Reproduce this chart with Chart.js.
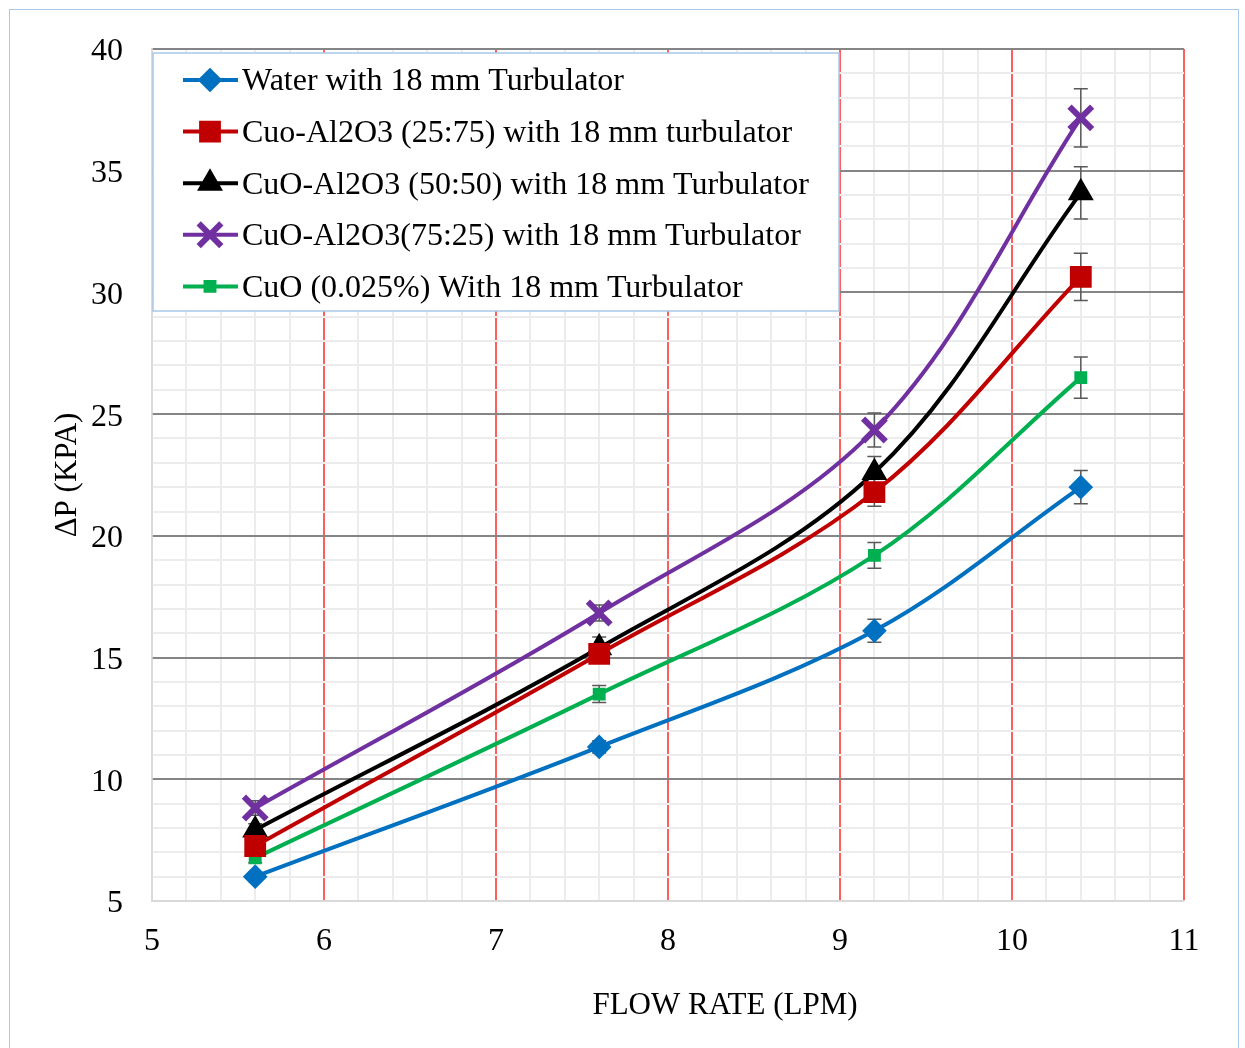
<!DOCTYPE html>
<html>
<head>
<meta charset="utf-8">
<script src="https://cdn.jsdelivr.net/npm/chart.js@4.4.1/dist/chart.umd.min.js"></script>
<style>
  html, body { margin: 0; padding: 0; background: #fff; }
  #wrap { position: relative; width: 1245px; height: 1048px; overflow: hidden; }
  #frame { position: absolute; left: 9px; top: 9px; width: 1228px; height: 1100px; border: 1.5px solid #a9c9e8; }
  canvas { position: absolute; left: 0; top: 0; }
</style>
</head>
<body>
<div id="wrap">
  <div id="frame"></div>
  <canvas id="chart" width="1245" height="1048"></canvas>
</div>
<script>
// flow rate (LPM) on x, pressure drop (kPa) on y
const flowRate = [5.6, 7.6, 9.2, 10.4];

const water     = [6.0, 11.33, 16.1, 22.0];
const cuoAl2575 = [7.26, 15.15, 21.8, 30.64];
const cuoAl5050 = [7.92, 15.4, 22.6, 34.09];
const cuoAl7525 = [8.82, 16.83, 24.35, 37.17];
const cuoOnly   = [6.77, 13.5, 19.2, 26.5];

// error bar half-heights
const waterErr     = [0.2, 0.25, 0.47, 0.68];
const cuoAl2575Err = [0.25, 0.3, 0.58, 0.97];
const cuoAl5050Err = [0.25, 0.45, 0.66, 1.07];
const cuoAl7525Err = [0.3, 0.33, 0.7, 1.2];
const cuoOnlyErr   = [0.2, 0.35, 0.53, 0.85];

const seriesLabels = [
  'Water with 18 mm Turbulator',
  'Cuo-Al2O3 (25:75) with 18 mm turbulator',
  'CuO-Al2O3 (50:50) with 18 mm Turbulator',
  'CuO-Al2O3(75:25) with 18 mm Turbulator',
  'CuO (0.025%) With 18 mm Turbulator'
];

const xTitle = 'FLOW RATE (LPM)';
const yTitle = 'ΔP (KPA)';

const FONT = '"Liberation Serif", "Times New Roman", serif';

const toPoints = ys => ys.map((y, i) => ({ x: flowRate[i], y: y }));

function series(label, ys, errs, color, style, radius, bw) {
  return {
    label: label,
    data: toPoints(ys),
    errors: errs,
    borderColor: color,
    backgroundColor: color,
    borderWidth: 4,
    tension: 0.35,
    pointStyle: style,
    pointRadius: radius,
    pointBorderWidth: bw,
    pointBackgroundColor: color,
    pointBorderColor: color
  };
}

const datasets = [
  series(seriesLabels[0], water, waterErr, '#0070C0', 'rectRot', 9.5, 4),
  series(seriesLabels[1], cuoAl2575, cuoAl2575Err, '#C00000', 'rect', 14, 2),
  series(seriesLabels[2], cuoAl5050, cuoAl5050Err, '#000000', 'triangle', 13, 2),
  series(seriesLabels[3], cuoAl7525, cuoAl7525Err, '#7030A0', 'crossRot', 16, 6),
  series(seriesLabels[4], cuoOnly, cuoOnlyErr, '#00B050', 'rect', 7, 3)
];

const isWhole = v => Math.abs(v - Math.round(v)) < 1e-6;

// error bars, drawn under the lines
const errorBars = {
  id: 'errorBars',
  beforeDatasetsDraw(chart) {
    const ctx = chart.ctx;
    const xs = chart.scales.x, ys = chart.scales.y;
    ctx.save();
    ctx.strokeStyle = '#595959';
    ctx.lineWidth = 1.5;
    chart.data.datasets.forEach(ds => {
      ds.data.forEach((p, i) => {
        const e = ds.errors[i];
        const px = xs.getPixelForValue(p.x);
        const top = ys.getPixelForValue(p.y + e);
        const bot = ys.getPixelForValue(p.y - e);
        ctx.beginPath();
        ctx.moveTo(px, top); ctx.lineTo(px, bot);
        ctx.moveTo(px - 7, top); ctx.lineTo(px + 7, top);
        ctx.moveTo(px - 7, bot); ctx.lineTo(px + 7, bot);
        ctx.stroke();
      });
    });
    ctx.restore();
  }
};

// legend box + axis titles
const legendAndTitles = {
  id: 'legendAndTitles',
  afterDraw(chart) {
    const ctx = chart.ctx;
    ctx.save();
    ctx.fillStyle = '#fff';
    ctx.fillRect(153, 53, 686, 258);
    ctx.strokeStyle = '#a9c9e8';
    ctx.lineWidth = 1.5;
    ctx.strokeRect(153, 53, 686, 258);

    chart.data.datasets.forEach((ds, i) => {
      const cy = 80 + i * 51.6;
      ctx.strokeStyle = ds.borderColor;
      ctx.lineWidth = 4;
      ctx.beginPath();
      ctx.moveTo(183, cy); ctx.lineTo(238, cy);
      ctx.stroke();
      ctx.fillStyle = ds.pointBackgroundColor;
      ctx.strokeStyle = ds.pointBorderColor;
      ctx.lineWidth = ds.pointBorderWidth;
      Chart.helpers.drawPoint(ctx, {
        pointStyle: ds.pointStyle,
        radius: ds.pointRadius,
        rotation: 0,
        borderWidth: ds.pointBorderWidth
      }, 210, cy);
      ctx.fillStyle = '#000';
      ctx.font = '32px ' + FONT;
      ctx.textAlign = 'left';
      ctx.textBaseline = 'middle';
      ctx.fillText(ds.label, 242, cy + 2);
    });

    ctx.fillStyle = '#000';
    ctx.font = '31px ' + FONT;
    ctx.textAlign = 'center';
    ctx.textBaseline = 'middle';
    ctx.fillText(xTitle, 725, 1006);
    ctx.translate(68, 475);
    ctx.rotate(-Math.PI / 2);
    ctx.fillText(yTitle, 0, 0);
    ctx.restore();
  }
};

new Chart(document.getElementById('chart'), {
  type: 'line',
  data: { datasets: datasets },
  options: {
    responsive: false,
    animation: false,
    devicePixelRatio: 1,
    layout: { padding: { left: 0, top: 49, right: 61, bottom: 0 } },
    plugins: { legend: { display: false }, tooltip: { enabled: false } },
    scales: {
      x: {
        type: 'linear',
        min: 5, max: 11,
        afterFit(scale) { scale.height = 147; },
        border: { color: '#d9d9d9', width: 1.5 },
        grid: {
          drawTicks: false,
          color: c => c.tick.value === 5 ? '#d9d9d9' : (isWhole(c.tick.value) ? 'rgba(255,40,40,0.75)' : '#ececec'),
          lineWidth: c => isWhole(c.tick.value) ? 2 : 2
        },
        ticks: {
          stepSize: 0.2,
          autoSkip: false,
          maxRotation: 0,
          padding: 21,
          color: '#000',
          font: { family: FONT, size: 32 },
          callback: v => isWhole(v) ? String(Math.round(v)) : ''
        }
      },
      y: {
        min: 5, max: 40,
        z: -1,
        afterFit(scale) { scale.width = 152; },
        border: { color: '#d9d9d9', width: 1.5 },
        grid: {
          drawTicks: false,
          color: c => c.tick.value === 5 ? '#d9d9d9' : (c.tick.value % 5 === 0 ? '#858585' : '#ececec'),
          lineWidth: c => c.tick.value % 5 === 0 ? 2 : 2
        },
        ticks: {
          stepSize: 1,
          autoSkip: false,
          padding: 29,
          labelOffset: 3,
          color: '#000',
          font: { family: FONT, size: 32 },
          callback: v => v % 5 === 0 ? String(v) : ''
        }
      }
    }
  },
  plugins: [errorBars, legendAndTitles]
});
</script>
</body>
</html>
